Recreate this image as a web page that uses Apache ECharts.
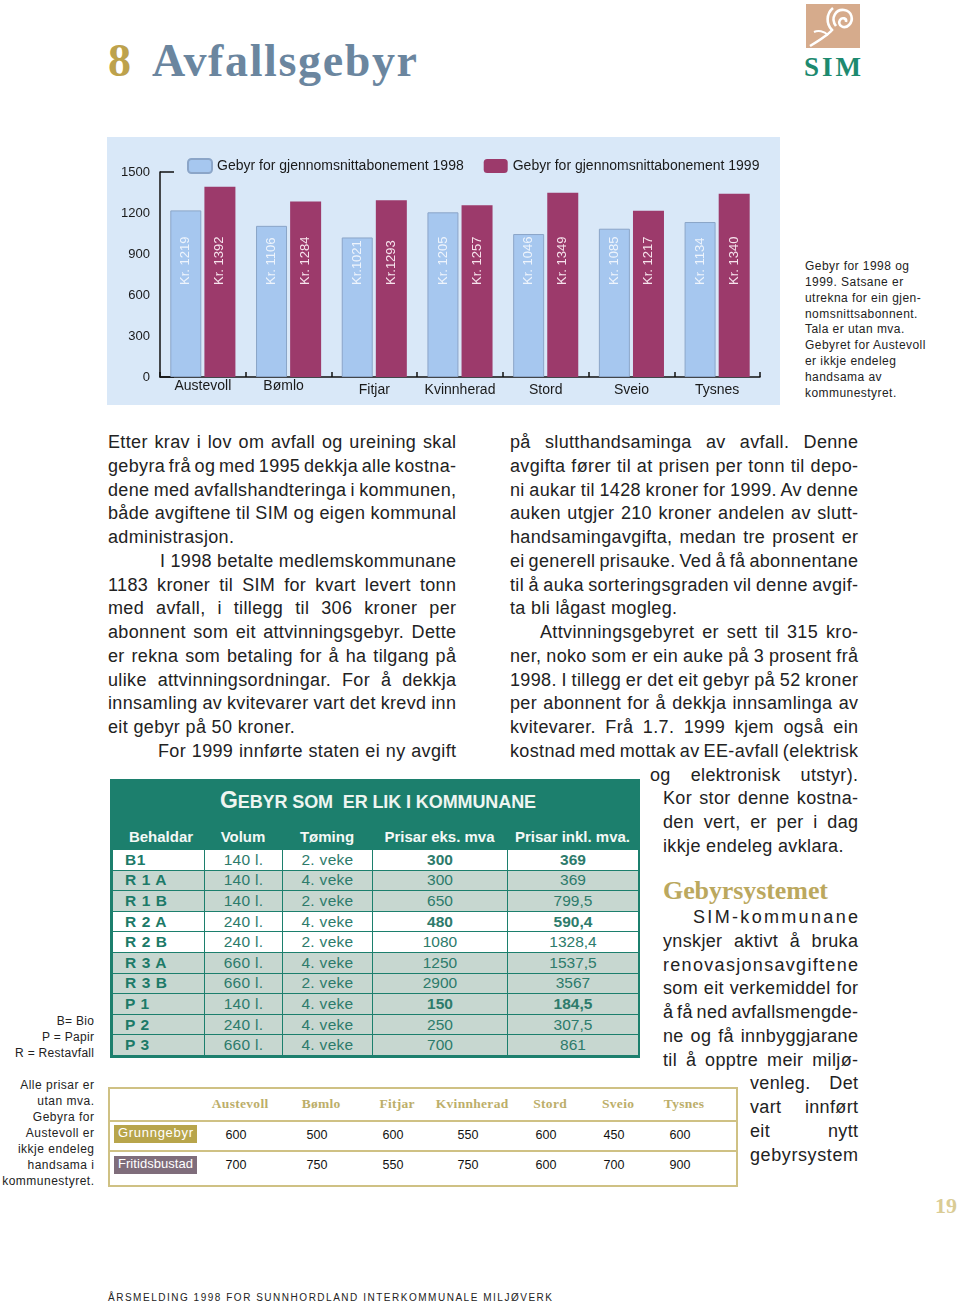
<!DOCTYPE html>
<html><head><meta charset="utf-8">
<script src="https://cdn.jsdelivr.net/npm/echarts@6/dist/echarts.min.js"></script>
<style>
html,body{margin:0;padding:0;background:#fff;}
#page{position:relative;width:960px;height:1304px;overflow:hidden;font-family:"Liberation Sans",Arial,sans-serif;color:#222;}
.abs{position:absolute;white-space:nowrap;}
#chart{position:absolute;left:107px;top:137px;width:673px;height:268px;}
table.g{border-collapse:collapse;table-layout:fixed;}
</style></head><body><div id="page"><div id="chart"></div></div>
<script>
// ---------- data ----------
const kommunar = ['Austevoll','Bømlo','Fitjar','Kvinnherad','Stord','Sveio','Tysnes'];
const gebyr1998 = [1219,1106,1021,1205,1046,1085,1134];
const gebyr1999 = [1392,1284,1293,1257,1349,1217,1340];
const labelSep1998 = [' ',' ','',' ',' ',' ',' '];
const labelSep1999 = [' ',' ','',' ',' ',' ',' '];
const seriesNames = ['Gebyr for gjennomsnittabonement 1998','Gebyr for gjennomsnittabonement 1999'];
const yMin = 0, yMax = 1500, yStep = 300;

const kolonnar = ['Behaldar','Volum','Tøming','Prisar eks. mva','Prisar inkl. mva.'];
const behaldar = ['B1','R 1 A','R 1 B','R 2 A','R 2 B','R 3 A','R 3 B','P 1','P 2','P 3'];
const volum = ['140 l.','140 l.','140 l.','240 l.','240 l.','660 l.','660 l.','140 l.','240 l.','660 l.'];
const toming = ['2. veke','4. veke','2. veke','4. veke','2. veke','4. veke','2. veke','4. veke','4. veke','4. veke'];
const prisEks = ['300','300','650','480','1080','1250','2900','150','250','700'];
const prisInkl = ['369','369','799,5','590,4','1328,4','1537,5','3567','184,5','307,5','861'];
const uthevaRader = ['B1','R 2 A','P 1'];

const grunngebyr = [600,500,600,550,600,450,600];
const fritidsbustad = [700,750,550,750,600,700,900];

// ---------- helpers ----------
const page = document.getElementById('page');
function put(txt, x, yc, o) {
  o = o || {};
  const size = o.size || 18;
  const d = document.createElement('div');
  d.className = 'abs';
  d.style.fontSize = size + 'px';
  d.style.lineHeight = (size * 1.1) + 'px';
  d.style.top = (yc - 0.6 * size) + 'px';
  d.style.left = x + 'px';
  d.style.fontFamily = o.family || '"Liberation Sans", Arial, sans-serif';
  d.style.color = o.color || '#222';
  d.style.fontWeight = o.weight || 'normal';
  d.style.letterSpacing = (o.ls || 0) + 'px';
  if (o.html) d.innerHTML = txt; else d.textContent = txt;
  page.appendChild(d);
  const nat = d.getBoundingClientRect().width - (o.ls || 0);
  if (o.mode === 'j' && o.w) {
    const n = (txt.match(/ /g) || []).length;
    if (n) d.style.wordSpacing = ((o.w - nat) / n) + 'px';
  } else if (o.mode === 'ls' && o.w) {
    const n = [...d.textContent].length;
    d.style.letterSpacing = ((o.ls || 0) + (o.w - nat) / (n - 1)) + 'px';
  } else if (o.mode === 'r') {
    d.style.left = (x - nat) + 'px';
  } else if (o.mode === 'c') {
    d.style.left = (x - nat / 2) + 'px';
  }
  return d;
}

// ---------- header ----------
put('8', 108, 64, {size: 46, family: '"Liberation Serif", serif', weight: 'bold', color: '#bda24c'});
put('Avfallsgebyr', 152, 64, {size: 46, family: '"Liberation Serif", serif', weight: 'bold', color: '#6b869f', mode: 'ls', w: 265});
const logo = document.createElement('div');
logo.className = 'abs';
logo.style.left = '806px'; logo.style.top = '4px';
logo.innerHTML = '<svg width="54" height="44" viewBox="0 0 54 44"><rect x="0" y="0" width="54" height="44" fill="#d6ab8c"/>' +
 '<path d="M30 22 C24 14 30 5 38 6 C46 7 48 16 43 21 C38 26 31 21 34 16 C36 13 41 14 40 18" stroke="#fff" stroke-width="2.6" fill="none"/>' +
 '<path d="M27 4 C20 10 20 20 26 26 C22 31 14 36 4 42" stroke="#fff" stroke-width="2.6" fill="none"/>' +
 '<path d="M22 31 C18 27 12 26 8 28" stroke="#fff" stroke-width="2" fill="none"/></svg>';
page.appendChild(logo);
put('SIM', 804, 69, {size: 27, family: '"Liberation Serif", serif', weight: 'bold', color: '#1d8a6f', mode: 'ls', w: 57});

// ---------- side note ----------
const noteLines = ['Gebyr for 1998 og','1999. Satsane er','utrekna for ein gjen-','nomsnittsabonnent.','Tala er utan mva.','Gebyret for Austevoll','er ikkje endeleg','handsama av','kommunestyret.'];
noteLines.forEach((t, i) => put(t, 805, 267 + i * 15.9, {size: 12, ls: 0.45}));

// ---------- prose ----------
const L = 108, R = 510, W = 348, LH = 23.75, Y0 = 444;
const BODY_LS = 0.35;
const leftCol = [
 ['Etter krav i lov om avfall og ureining skal', 'j', 0],
 ['gebyra frå og med 1995 dekkja alle kostna-', 'j', 0],
 ['dene med avfallshandteringa i kommunen,', 'j', 0],
 ['både avgiftene til SIM og eigen kommunal', 'j', 0],
 ['administrasjon.', 'l', 0],
 ['I 1998 betalte medlemskommunane', 'j', 52],
 ['1183 kroner til SIM for kvart levert tonn', 'j', 0],
 ['med avfall, i tillegg til 306 kroner per', 'j', 0],
 ['abonnent som eit attvinningsgebyr. Dette', 'j', 0],
 ['er rekna som betaling for å ha tilgang på', 'j', 0],
 ['ulike attvinningsordningar. For å dekkja', 'j', 0],
 ['innsamling av kvitevarer vart det krevd inn', 'j', 0],
 ['eit gebyr på 50 kroner.', 'l', 0],
 ['For 1999 innførte staten ei ny avgift', 'j', 50]
];
leftCol.forEach((r, i) => put(r[0], L + r[2], Y0 + i * LH, {mode: r[1], w: W - r[2], ls: BODY_LS}));
const rightCol = [
 ['på slutthandsaminga av avfall. Denne', 'j', 0],
 ['avgifta fører til at prisen per tonn til depo-', 'j', 0],
 ['ni aukar til 1428 kroner for 1999. Av denne', 'j', 0],
 ['auken utgjer 210 kroner andelen av slutt-', 'j', 0],
 ['handsamingavgifta, medan tre prosent er', 'j', 0],
 ['ei generell prisauke. Ved å få abonnentane', 'j', 0],
 ['til å auka sorteringsgraden vil denne avgif-', 'j', 0],
 ['ta bli lågast mogleg.', 'l', 0],
 ['Attvinningsgebyret er sett til 315 kro-', 'j', 30],
 ['ner, noko som er ein auke på 3 prosent frå', 'j', 0],
 ['1998. I tillegg er det eit gebyr på 52 kroner', 'j', 0],
 ['per abonnent for å dekkja innsamlinga av', 'j', 0],
 ['kvitevarer. Frå 1.7. 1999 kjem også ein', 'j', 0],
 ['kostnad med mottak av EE-avfall (elektrisk', 'j', 0],
 ['og elektronisk utstyr).', 'j', 140],
 ['Kor stor denne kostna-', 'j', 153],
 ['den vert, er per i dag', 'j', 153],
 ['ikkje endeleg avklara.', 'l', 153]
];
rightCol.forEach((r, i) => put(r[0], R + r[2], Y0 + i * LH, {mode: r[1], w: W - r[2], ls: BODY_LS}));
put('Gebyrsystemet', 663, 893, {size: 26, family: '"Liberation Serif", serif', weight: 'bold', color: '#bba85e', mode: 'ls', w: 165});
const col3 = [
 ['SIM-kommunane', 'ls', 693, 165],
 ['ynskjer aktivt å bruka', 'j', 663, 195],
 ['renovasjonsavgiftene', 'ls', 663, 195],
 ['som eit verkemiddel for', 'j', 663, 195],
 ['å få ned avfallsmengde-', 'j', 663, 195],
 ['ne og få innbyggjarane', 'j', 663, 195],
 ['til å opptre meir miljø-', 'j', 663, 195],
 ['venleg. Det', 'j', 750, 108],
 ['vart innført', 'j', 750, 108],
 ['eit nytt', 'j', 750, 108],
 ['gebyrsystem', 'ls', 750, 108]
];
col3.forEach((r, i) => put(r[0], r[2], 919 + i * LH, {mode: r[1], w: r[3], ls: BODY_LS}));

// ---------- margin notes ----------
['B= Bio', 'P = Papir', 'R = Restavfall'].forEach((t, i) => put(t, 94, 1022 + i * 16, {size: 12, ls: 0.3, mode: 'r'}));
['Alle prisar er', 'utan mva.', 'Gebyra for', 'Austevoll er', 'ikkje endeleg', 'handsama i', 'kommunestyret.'].forEach((t, i) => put(t, 94, 1086 + i * 16, {size: 12, ls: 0.5, mode: 'r'}));

// ---------- green table ----------
const teal = '#1c7f6d';
const gbox = document.createElement('div');
gbox.className = 'abs';
gbox.style.cssText += 'left:110px;top:779px;width:530px;height:279px;background:' + teal + ';';
page.appendChild(gbox);
put('<span style="font-size:23px">G</span>EBYR SOM&nbsp;&nbsp;ER LIK I KOMMUNANE', 378, 802, {html: true, size: 18, weight: 'bold', color: '#eef5f1', mode: 'c', ls: -0.1});
const colW = [92, 78, 90, 135, 131];
let cx = 112;
kolonnar.forEach((k, i) => { put(k, cx + colW[i] / 2 + (i === 0 ? 3 : 0), 838, {size: 15, weight: 'bold', color: '#f4f8f6', mode: 'c'}); cx += colW[i]; });
const tbl = document.createElement('table');
tbl.className = 'g abs';
tbl.style.cssText += 'left:112px;top:849px;width:526px;';
let html = '<colgroup>' + colW.map(w => '<col style="width:' + w + 'px">').join('') + '</colgroup>';
const kvite = [0, 3, 4];
behaldar.forEach((b, i) => {
  const bg = kvite.includes(i) ? '#ffffff' : '#c7d7d0';
  const bold = uthevaRader.includes(b);
  const cs = 'padding:0;border:1.5px solid ' + teal + ';font-size:15.5px;line-height:16px;color:#2d7b6b;background:' + bg + ';';
  html += '<tr style="height:20.6px">' +
    '<td style="' + cs + 'text-align:left;padding-left:12px;font-weight:bold;color:#1c7a68;letter-spacing:0.6px">' + b + '</td>' +
    '<td style="' + cs + 'text-align:center;letter-spacing:0.3px">' + volum[i] + '</td>' +
    '<td style="' + cs + 'text-align:center;letter-spacing:0.3px">' + toming[i] + '</td>' +
    '<td style="' + cs + 'text-align:center;' + (bold ? 'font-weight:bold;' : '') + '">' + prisEks[i] + '</td>' +
    '<td style="' + cs + 'text-align:center;' + (bold ? 'font-weight:bold;' : '') + '">' + prisInkl[i] + '</td></tr>';
});
tbl.innerHTML = html;
page.appendChild(tbl);

// ---------- gold table ----------
const gold = '#cfc184';
const bt = document.createElement('div');
bt.className = 'abs';
bt.style.cssText += 'left:108px;top:1087px;width:626px;height:96px;border:2px solid ' + gold + ';';
page.appendChild(bt);
[1121, 1151].forEach(y => { const l = document.createElement('div'); l.className = 'abs'; l.style.cssText += 'left:110px;top:' + (y - 1) + 'px;width:626px;height:2px;background:' + gold + ';'; page.appendChild(l); });
const colC = [240, 321, 397, 472, 550, 618, 684];
kommunar.forEach((k, i) => put(k, colC[i], 1105, {size: 13.5, family: '"Liberation Serif", serif', weight: 'bold', color: '#bcae6a', mode: 'c', ls: 0.3}));
grunngebyr.forEach((v, i) => put(String(v), colC[i] - 4, 1136, {size: 12.5, color: '#111', mode: 'c'}));
fritidsbustad.forEach((v, i) => put(String(v), colC[i] - 4, 1166, {size: 12.5, color: '#111', mode: 'c'}));
function tag(t, y, bg) {
  const d = document.createElement('div');
  d.className = 'abs';
  d.style.cssText += 'left:114px;top:' + (y - 9) + 'px;width:83px;height:18px;background:' + bg + ';';
  page.appendChild(d);
  put(t, 118, y, {size: 13, color: '#fff', mode: 'ls', w: 75});
}
tag('Grunngebyr', 1134, '#b8a54b');
tag('Fritidsbustad', 1165, '#7f6d7b');

// ---------- footer ----------
put('19', 935, 1207, {size: 22, family: '"Liberation Serif", serif', weight: 'bold', color: '#dacc95'});
put('ÅRSMELDING 1998 FOR SUNNHORDLAND INTERKOMMUNALE MILJØVERK', 108, 1298, {size: 10, color: '#222', mode: 'ls', w: 444});

// ---------- chart ----------
const chart = echarts.init(document.getElementById('chart'), null, {renderer: 'canvas'});
const barLabel = (sep, color) => ({
  show: true, position: 'insideBottom', distance: 92, rotate: 90, align: 'left', verticalAlign: 'middle',
  color: color, fontSize: 13, fontFamily: '"Liberation Sans", Arial, sans-serif',
  formatter: p => 'Kr.' + sep[p.dataIndex] + p.value
});
chart.setOption({
  animation: false,
  backgroundColor: '#d9e8f8',
  textStyle: {fontFamily: '"Liberation Sans", Arial, sans-serif'},
  legend: {
    left: 80, top: 21, padding: 0, itemWidth: 24, itemHeight: 14, itemGap: 20,
    textStyle: {fontSize: 14, color: '#1a1a1a', padding: [5, 0, 0, 0]},
    data: seriesNames
  },
  grid: {left: 53, right: 20, top: 35, bottom: 28},
  xAxis: {
    type: 'category', data: kommunar,
    axisLine: {lineStyle: {color: '#111', width: 1.5}},
    axisTick: {show: true, inside: true, length: 5, lineStyle: {color: '#111', width: 1.5}},
    axisLabel: {
      interval: 0, margin: 2, color: '#1a1a1a', fontSize: 14,
      formatter: (v, i) => (i === 0 ? '{a|' + v + '}' : i === 1 ? '{c|' + v + '}' : '{b|' + v + '}'),
      rich: {
        a: {fontSize: 14, color: '#1a1a1a'},
        c: {fontSize: 14, color: '#1a1a1a', padding: [0, 10, 0, 0]},
        b: {fontSize: 14, color: '#1a1a1a', padding: [4, 0, 0, 0]}
      }
    }
  },
  yAxis: [
    {type: 'value', min: yMin, max: yMax, interval: yStep,
     axisLine: {show: true, lineStyle: {color: '#111', width: 1.5}},
     axisTick: {show: false}, splitLine: {show: false},
     axisLabel: {fontSize: 13, color: '#1a1a1a', margin: 10, formatter: v => String(v)}},
    {type: 'value', position: 'left', min: yMin, max: yMax, interval: yMax - yMin,
     axisLine: {show: false}, axisLabel: {show: false}, splitLine: {show: false},
     axisTick: {show: true, inside: true, length: 14, lineStyle: {color: '#111', width: 1.5}}}
  ],
  series: [
    {name: seriesNames[0], type: 'bar', data: gebyr1998, barWidth: 31, barGap: '10%',
     itemStyle: {color: '#a6c7ef', borderColor: '#8ba5c8', borderWidth: 1},
     label: barLabel(labelSep1998, '#eef4fc')},
    {name: seriesNames[1], type: 'bar', data: gebyr1999, barWidth: 31, barGap: '10%',
     itemStyle: {color: '#9c3a6b'},
     label: barLabel(labelSep1999, '#f6e3ec')}
  ]
});
</script></body></html>
